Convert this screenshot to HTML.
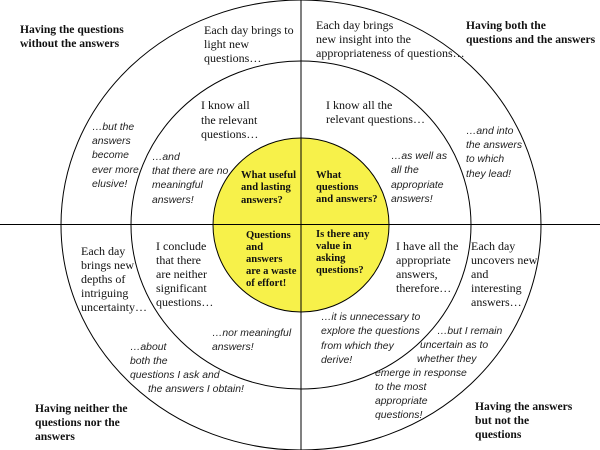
<!DOCTYPE html>
<html><head><meta charset="utf-8"><style>
html,body{margin:0;padding:0;background:#fff}
svg{display:block}
.r{font:12px "Liberation Serif",serif;fill:#111}
.b{font:bold 11.6px "Liberation Serif",serif;fill:#111}
.y{font:bold 10.6px "Liberation Serif",serif;fill:#111}
.i{font:italic 10.4px "Liberation Sans",sans-serif;fill:#222}
</style></head><body>
<svg width="600" height="450" viewBox="0 0 600 450" xmlns="http://www.w3.org/2000/svg">
<rect width="600" height="450" fill="#fff"/>
<ellipse cx="301" cy="225" rx="240" ry="225" fill="none" stroke="#000" stroke-width="1"/>
<ellipse cx="301" cy="225" rx="170" ry="164" fill="none" stroke="#000" stroke-width="1"/>
<ellipse cx="301" cy="225" rx="88" ry="87" fill="#f7f14a" stroke="#000" stroke-width="1"/>
<line x1="0" y1="224.5" x2="600" y2="224.5" stroke="#000"/>
<line x1="301" y1="0" x2="301" y2="450" stroke="#000"/>

<text class="b" x="20" y="33">Having the questions</text>
<text class="b" x="20" y="47">without the answers</text>
<text class="r" x="204" y="34">Each day brings to</text>
<text class="r" x="204" y="48">light new</text>
<text class="r" x="204" y="62">questions…</text>
<text class="r" x="201" y="109">I know all</text>
<text class="r" x="201" y="124">the relevant</text>
<text class="r" x="201" y="138">questions…</text>
<text class="i" x="92" y="130">…but the</text>
<text class="i" x="92" y="144">answers</text>
<text class="i" x="92" y="158">become</text>
<text class="i" x="92" y="173">ever more</text>
<text class="i" x="92" y="187">elusive!</text>
<text class="i" x="152" y="160">…and</text>
<text class="i" x="152" y="174">that there are no</text>
<text class="i" x="152" y="188">meaningful</text>
<text class="i" x="152" y="203">answers!</text>
<text class="y" x="241" y="178">What useful</text>
<text class="y" x="241" y="190">and lasting</text>
<text class="y" x="241" y="203">answers?</text>

<text class="r" x="316" y="29">Each day brings</text>
<text class="r" x="316" y="43">new insight into the</text>
<text class="r" x="316" y="57">appropriateness of questions…</text>
<text class="b" x="466" y="29">Having both the</text>
<text class="b" x="466" y="43">questions and the answers</text>
<text class="r" x="326" y="109">I know all the</text>
<text class="r" x="326" y="123">relevant questions…</text>
<text class="i" x="466" y="134">…and into</text>
<text class="i" x="466" y="148">the answers</text>
<text class="i" x="466" y="162">to which</text>
<text class="i" x="466" y="177">they lead!</text>
<text class="i" x="391" y="159">…as well as</text>
<text class="i" x="391" y="173">all the</text>
<text class="i" x="391" y="188">appropriate</text>
<text class="i" x="391" y="202">answers!</text>
<text class="y" x="316" y="178">What</text>
<text class="y" x="316" y="190">questions</text>
<text class="y" x="316" y="202">and answers?</text>

<text class="y" x="246" y="238">Questions</text>
<text class="y" x="246" y="250">and</text>
<text class="y" x="246" y="262">answers</text>
<text class="y" x="246" y="274">are a waste</text>
<text class="y" x="246" y="286">of effort!</text>
<text class="r" x="81" y="255">Each day</text>
<text class="r" x="81" y="269">brings new</text>
<text class="r" x="81" y="283">depths of</text>
<text class="r" x="81" y="297">intriguing</text>
<text class="r" x="81" y="311">uncertainty…</text>
<text class="r" x="156" y="250">I conclude</text>
<text class="r" x="156" y="264">that there</text>
<text class="r" x="156" y="278">are neither</text>
<text class="r" x="156" y="292">significant</text>
<text class="r" x="156" y="306">questions…</text>
<text class="i" x="212" y="336">…nor meaningful</text>
<text class="i" x="212" y="350">answers!</text>
<text class="i" x="130" y="350">…about</text>
<text class="i" x="130" y="364">both the</text>
<text class="i" x="130" y="378">questions I ask and</text>
<text class="i" x="148" y="392">the answers I obtain!</text>
<text class="b" x="35" y="412">Having neither the</text>
<text class="b" x="35" y="426">questions nor the</text>
<text class="b" x="35" y="440">answers</text>

<text class="y" x="316" y="237">Is there any</text>
<text class="y" x="316" y="249">value in</text>
<text class="y" x="316" y="261">asking</text>
<text class="y" x="316" y="273">questions?</text>
<text class="r" x="396" y="250">I have all the</text>
<text class="r" x="396" y="264">appropriate</text>
<text class="r" x="396" y="278">answers,</text>
<text class="r" x="396" y="292">therefore…</text>
<text class="r" x="471" y="250">Each day</text>
<text class="r" x="471" y="264">uncovers new</text>
<text class="r" x="471" y="278">and</text>
<text class="r" x="471" y="292">interesting</text>
<text class="r" x="471" y="306">answers…</text>
<text class="i" x="321" y="320">…it is unnecessary to</text>
<text class="i" x="321" y="334">explore the questions</text>
<text class="i" x="321" y="349">from which they</text>
<text class="i" x="321" y="363">derive!</text>
<text class="i" x="437" y="334">…but I remain</text>
<text class="i" x="420" y="348">uncertain as to</text>
<text class="i" x="417" y="362">whether they</text>
<text class="i" x="375" y="376">emerge in response</text>
<text class="i" x="375" y="390">to the most</text>
<text class="i" x="375" y="404">appropriate</text>
<text class="i" x="375" y="418">questions!</text>
<text class="b" x="475" y="410">Having the answers</text>
<text class="b" x="475" y="424">but not the</text>
<text class="b" x="475" y="438">questions</text>
</svg>
</body></html>
